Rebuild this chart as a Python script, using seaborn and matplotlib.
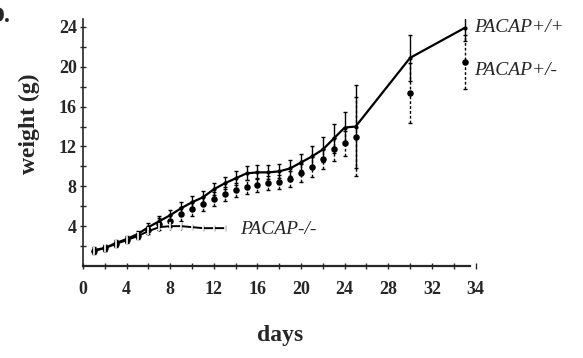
import numpy as np
import pandas as pd
import matplotlib
matplotlib.use("Agg")
import matplotlib.pyplot as plt
import seaborn as sns

sns.set_style("ticks")
plt.rcParams['font.family'] = ['Liberation Serif', 'DejaVu Serif']

# data (days, mean weight in g, error)
days_wt = [1, 2, 3, 4, 5, 6, 7, 8, 9, 10, 11, 12, 13, 14, 15, 16, 17, 18, 19, 20,
           21, 22, 23, 24, 25, 30, 35]
wt_mean = [1.6, 1.8, 2.3, 2.7, 3.2, 3.9, 4.5, 5.1, 5.8, 6.4, 6.9, 7.7, 8.3, 8.8, 9.3,
           9.4, 9.4, 9.5, 9.8, 10.4, 11.0, 11.7, 12.8, 13.9, 14.0, 20.9, 23.9]
wt_err = [0.3, 0.3, 0.3, 0.3, 0.3, 0.4, 0.5, 0.5, 0.6, 0.6, 0.6, 0.6, 0.6, 0.7, 0.7,
          0.7, 0.7, 0.7, 0.8, 0.8, 1.0, 1.3, 1.5, 1.6, 4.2, 2.3, 1.3]

het_mean = [1.5, 1.8, 2.2, 2.6, 3.0, 3.6, 4.2, 4.5, 5.2, 5.7, 6.2, 6.7, 7.2, 7.6, 7.9,
            8.1, 8.3, 8.4, 8.7, 9.3, 9.9, 10.7, 11.7, 12.3, 13.0, 17.4, 20.5]
het_err = [0.3, 0.3, 0.3, 0.3, 0.3, 0.4, 0.6, 0.6, 0.7, 0.7, 0.7, 0.7, 0.7, 0.7, 0.7,
           0.7, 0.7, 0.7, 0.8, 0.9, 1.0, 1.0, 1.2, 1.3, 4.0, 3.0, 2.7]

days_ko = [1, 2, 3, 4, 5, 6, 7, 8, 9, 10, 11, 12, 13]
ko_mean = [1.5, 1.8, 2.2, 2.6, 3.0, 3.5, 3.9, 4.0, 4.0, 3.9, 3.8, 3.8, 3.8]
ko_err = [0.3, 0.3, 0.3, 0.3, 0.3, 0.4, 0.4, 0.4, 0.4, 0.3, 0.3, 0.3, 0.3]

xtick_pos = [0, 4, 8, 12, 16, 20, 24, 28, 32, 36]
xtick_lab = ["0", "4", "8", "12", "16", "20", "24", "28", "32", "34"]
ytick_pos = [4, 8, 12, 16, 20, 24]

wt = pd.DataFrame({"day": days_wt, "w": wt_mean, "e": wt_err})
het = pd.DataFrame({"day": days_wt, "w": het_mean, "e": het_err})
ko = pd.DataFrame({"day": days_ko, "w": ko_mean, "e": ko_err})

fig = plt.figure(figsize=(5.83, 3.58), dpi=100)
ax = fig.add_axes([0.1424, 0.257, 0.677, 0.690])

# PACAP+/- : dots with dashed error bars, no joining line
eb = ax.errorbar(het["day"], het["w"], yerr=het["e"], fmt="none", ecolor="black",
                 elinewidth=1.0, capsize=1.5, capthick=1.0)
eb[2][0].set_linestyle((0, (2, 1.5)))
sns.scatterplot(data=het, x="day", y="w", ax=ax, color="black", s=22,
                marker="o", linewidth=0, legend=False)

# PACAP+/+ : solid line
ax.errorbar(wt["day"], wt["w"], yerr=wt["e"], fmt="none", ecolor="black",
            elinewidth=1.0, capsize=1.5, capthick=1.0)
sns.lineplot(data=wt, x="day", y="w", ax=ax, color="black", lw=1.6,
             marker="o", markersize=3, markeredgewidth=0, legend=False)

# PACAP-/-
ax.errorbar(ko["day"], ko["w"], yerr=ko["e"], fmt="none", ecolor="black",
            elinewidth=1.0, capsize=0)
sns.lineplot(data=ko, x="day", y="w", ax=ax, color="black", lw=1.4,
             marker="|", markersize=6, markeredgewidth=1.2, legend=False)

ax.set_xlim(0, 36.2)
ax.set_ylim(0, 24.8)
ax.spines["right"].set_visible(False)
ax.spines["top"].set_visible(False)
ax.spines["bottom"].set_bounds(0, 35.5)
ax.spines["left"].set_linewidth(1.2)
ax.spines["bottom"].set_linewidth(1.6)

ax.set_xticks(xtick_pos)
ax.set_xticklabels(xtick_lab)
ax.set_xticks(np.arange(2, 36, 4), minor=True)
ax.set_yticks(ytick_pos)
ax.set_yticks(np.arange(2, 25, 4), minor=True)
ax.tick_params(axis="both", which="major", direction="inout", length=5, width=1.0,
               labelsize=13)
ax.tick_params(axis="both", which="minor", direction="inout", length=4, width=1.0)
ax.tick_params(axis="x", which="major", pad=8)
ax.tick_params(axis="y", which="major", pad=2)
for lab in ax.get_xticklabels() + ax.get_yticklabels():
    lab.set_fontweight("bold")

ax.set_xlabel("days", fontsize=17, fontweight="bold", labelpad=20)
ax.set_ylabel("weight (g)", fontsize=17, fontweight="bold")
ax.yaxis.set_label_coords(-0.11, 0.575)

ax.text(35.9, 23.9, "PACAP+/+", fontsize=14, style="italic", va="center", ha="left")
ax.text(35.9, 19.6, "PACAP+/-", fontsize=14, style="italic", va="center", ha="left")
ax.text(14.4, 3.7, "PACAP-/-", fontsize=14, style="italic", va="center", ha="left")

fig.text(-0.022, 0.955, "D.", fontsize=17, fontweight="bold", va="center", ha="left")

fig.savefig("out.png", dpi=100)
